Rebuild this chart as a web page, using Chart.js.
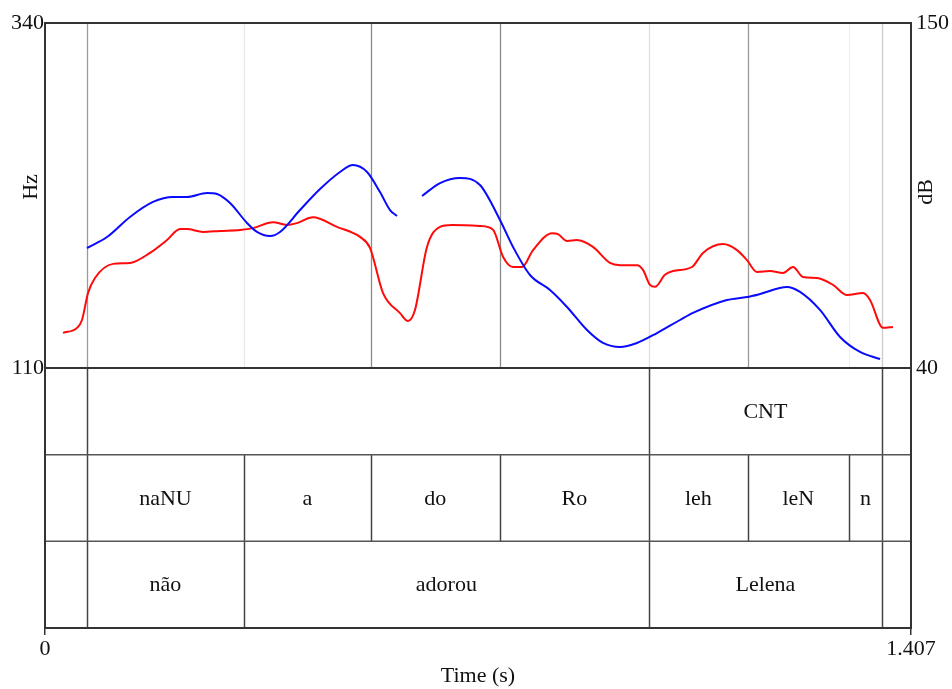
<!DOCTYPE html>
<html><head><meta charset="utf-8">
<script src="https://cdn.jsdelivr.net/npm/chart.js@4"></script>
<style>html,body{margin:0;padding:0;background:#fff}#wrap{width:952px;height:689px;position:relative}</style>
</head><body><div id="wrap"><canvas id="c"></canvas></div>
<script>
// ---- data ----
const pitchTimes = [0.0682,0.1007,0.1381,0.1755,0.208,0.2307,0.2632,0.2795,0.3006,0.3282,0.3444,0.3656,0.3818,0.4143,0.4468,0.4793,0.5004,0.5232,0.5443,0.5606,0.5719,
  0.59,
  0.6125,0.6418,0.6743,0.7067,0.7392,0.7604,0.788,0.8205,0.8481,0.8806,0.9066,0.9342,0.9618,0.9943,1.0317,1.0528,1.108,1.1405,1.1617,1.2055,1.2267,1.2591,1.2917,1.3242,1.3567];
const pitchHz = [190,197.3,210.7,220.7,224,224,226.7,226,220,206.7,200.7,198,200.7,215.3,229.3,240.7,245.3,240.7,227.3,215.3,211.3,
  null,
  224.7,233.3,236.7,232,208.7,190.7,172,162,150.7,135.3,126.7,124,126.7,133.3,142,146.7,155.3,157.3,159.3,164,160.7,148.7,130.7,120.7,116];
const intensityTimes = [0.0292,0.052,0.0601,0.0699,0.0812,0.1105,0.1381,0.1706,0.1982,0.2193,0.2307,0.2567,0.2843,0.3168,0.3379,0.3704,0.3932,0.4094,0.4354,0.4744,0.5118,0.528,0.5492,0.5768,0.5898,0.6011,0.6206,0.6418,0.6613,0.7067,0.7279,0.7441,0.7604,0.775,0.7929,0.824,0.8335,0.8481,0.8643,0.8903,0.9179,0.9342,0.9618,0.9716,0.9829,0.991,1.0073,1.0203,1.0512,1.069,1.1015,1.1243,1.1405,1.1568,1.1779,1.199,1.2153,1.2316,1.2543,1.2803,1.303,1.3291,1.3404,1.3615,1.3777];
const intensityDb = [51.2,52.8,55.3,63.9,68.7,73.2,73.5,76.7,80.8,84.3,84.3,83.4,83.7,84.0,84.6,86.5,85.6,86.2,88.1,85.0,81.8,78.3,63.9,57.5,55.0,58.5,78.6,85.0,85.6,85.3,84.1,75.5,72.2,72.2,77.6,83.0,82.7,80.5,80.8,78.6,73.5,72.8,72.8,71.3,66.5,65.9,69.7,70.9,72.2,76.7,79.5,77.6,74.4,70.6,70.9,70.3,72.2,69.0,68.7,66.5,63.3,63.9,61.7,52.8,53.1];
const xTicks = [0, 1.407];
const hzTicks = [110, 340];
const dbTicks = [40, 150];
const tier1Bounds = [0.0682, 0.981, 1.360];
const tier1Labels = ["", "CNT"];
const tier2Bounds = [0.0682, 0.3233, 0.529, 0.739, 0.981, 1.142, 1.306, 1.360];
const tier2Labels = ["naNU", "a", "do", "Ro", "leh", "leN", "n"];
const tier3Bounds = [0.0682, 0.3233, 0.981, 1.360];
const tier3Labels = ["não", "adorou", "Lelena"];
const panelLineTimes = [0.0682, 0.3233, 0.529, 0.739, 0.981, 1.142, 1.306, 1.360];

// ---- styles ----
const panelLineColors = ['#9a9a9a','#e8e8e8','#8a8a8a','#8a8a8a','#dddddd','#999999','#f0f0f0','#cccccc'];
const FONT = '"Liberation Serif", "Times New Roman", serif';
const HZ_MIN = 110 - 260/1.5;          // extend Hz scale below the pitch panel for the tiers
const DB_MIN = 40 - 260/(345/110);

const pitchData = pitchTimes.map((t,i)=>({x:t, y:pitchHz[i]}));
const intData = intensityTimes.map((t,i)=>({x:t, y:intensityDb[i]}));

const tierPlugin = {
  id: 'tiers',
  beforeDatasetsDraw(chart){
    const {ctx, chartArea:a, scales:{x, y}} = chart;
    const yBase = y.getPixelForValue(110);
    ctx.save();
    panelLineTimes.forEach((t,i)=>{
      const px = Math.round(x.getPixelForValue(t)) + 0.5;
      ctx.strokeStyle = panelLineColors[i]; ctx.lineWidth = 1.3;
      ctx.beginPath(); ctx.moveTo(px, a.top); ctx.lineTo(px, yBase); ctx.stroke();
    });
    ctx.restore();
  },
  afterDraw(chart){
    const {ctx, chartArea:a, scales:{x, y}} = chart;
    const yBase = y.getPixelForValue(110);
    const h = (a.bottom - yBase)/3;
    ctx.save();
    const tiers = [[tier1Bounds,tier1Labels],[tier2Bounds,tier2Labels],[tier3Bounds,tier3Labels]];
    ctx.font = '22px ' + FONT;
    ctx.fillStyle = '#111';
    ctx.textAlign = 'center'; ctx.textBaseline = 'middle';
    tiers.forEach(([b,l],r)=>{
      const top = yBase + r*h, bot = top + h;
      ctx.strokeStyle = '#444'; ctx.lineWidth = 1.5;
      b.forEach(t=>{
        const px = Math.round(x.getPixelForValue(t)) + 0.5;
        ctx.beginPath(); ctx.moveTo(px, top); ctx.lineTo(px, bot); ctx.stroke();
      });
      l.forEach((s,i)=>{
        if(!s) return;
        const cx = (x.getPixelForValue(b[i]) + x.getPixelForValue(b[i+1]))/2;
        ctx.fillText(s, cx, (top+bot)/2 + 1);
      });
      if (r>0){
        ctx.strokeStyle = '#555'; ctx.lineWidth = 1.5;
        ctx.beginPath(); ctx.moveTo(a.left, top); ctx.lineTo(a.right, top); ctx.stroke();
      }
    });
    ctx.strokeStyle = '#333'; ctx.lineWidth = 2;
    ctx.strokeRect(a.left, a.top, a.right-a.left, a.bottom-a.top);
    ctx.lineWidth = 1.8;
    ctx.beginPath(); ctx.moveTo(a.left, yBase); ctx.lineTo(a.right, yBase); ctx.stroke();
    ctx.fillStyle = '#111';
    ctx.font = '22px ' + FONT;
    ctx.save(); ctx.translate(31, 187); ctx.rotate(-Math.PI/2); ctx.fillText('Hz', 0, 0); ctx.restore();
    ctx.save(); ctx.translate(926, 192); ctx.rotate(-Math.PI/2); ctx.fillText('dB', 0, 0); ctx.restore();
    ctx.fillText('Time (s)', (a.left+a.right)/2, 676);
    ctx.restore();
  }
};

new Chart(document.getElementById('c'), {
  type: 'line',
  data: { datasets: [
    { label:'Pitch (Hz)', data: pitchData, yAxisID:'y', borderColor:'#0a0aff', borderWidth:2, pointRadius:0, cubicInterpolationMode:'monotone', spanGaps:false, fill:false },
    { label:'Intensity (dB)', data: intData, yAxisID:'y2', borderColor:'#ff0a0a', borderWidth:2, pointRadius:0, cubicInterpolationMode:'monotone', fill:false }
  ]},
  options: {
    responsive:true, maintainAspectRatio:false, animation:false,
    layout:{ padding:{ top:23, left:0, right:0, bottom:0 } },
    plugins:{ legend:{display:false}, tooltip:{enabled:false} },
    scales:{
      x:{ type:'linear', min:0, max:1.407,
        afterBuildTicks: s => { s.ticks = xTicks.map(v=>({value:v})); },
        afterFit: s => { s.height = 61; },
        grid:{ display:true, drawOnChartArea:false, drawTicks:true, tickLength:7, color:'#333', lineWidth:1.5 },
        border:{ display:false },
        ticks:{ color:'#111', font:{ family:FONT, size:22 }, padding:1, maxRotation:0, autoSkip:false, callback: v => String(v) }
      },
      y:{ type:'linear', position:'left', min:HZ_MIN, max:340,
        afterBuildTicks: s => { s.ticks = hzTicks.map(v=>({value:v})); },
        afterFit: s => { s.width = 45; },
        grid:{ display:false, drawTicks:false }, border:{ display:false },
        ticks:{ color:'#111', font:{ family:FONT, size:22 }, padding:1, autoSkip:false, callback: v => String(v) }
      },
      y2:{ type:'linear', position:'right', min:DB_MIN, max:150,
        afterBuildTicks: s => { s.ticks = dbTicks.map(v=>({value:v})); },
        afterFit: s => { s.width = 41; },
        grid:{ display:false, drawTicks:false }, border:{ display:false },
        ticks:{ color:'#111', font:{ family:FONT, size:22 }, padding:5, autoSkip:false, callback: v => String(v) }
      }
    }
  },
  plugins:[tierPlugin]
});
</script></body></html>
